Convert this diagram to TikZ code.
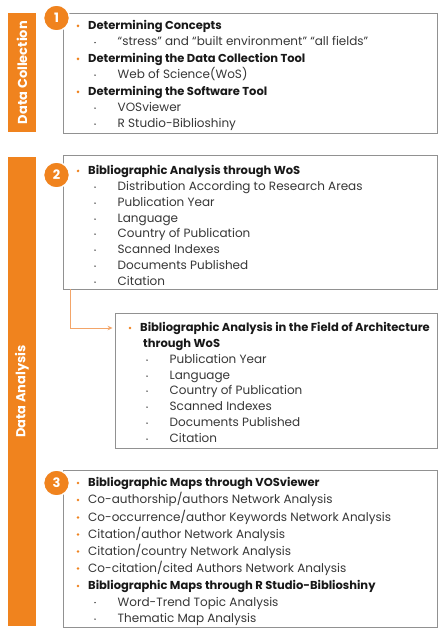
\documentclass[tikz,border=0pt]{standalone}
\usepackage{fontspec}
\setmainfont{Poppins}
\usetikzlibrary{arrows.meta}
\definecolor{org}{RGB}{240,131,30}
\definecolor{lorg}{RGB}{243,165,105}
\definecolor{frame}{RGB}{145,145,145}
\definecolor{txt}{RGB}{25,25,25}
\definecolor{txtb}{RGB}{55,55,55}
\newcommand\obitem[5]{%
  \fill[org] ([yshift=3.6pt]#3,#4) circle (1.4pt);
  \node[#2] (#1) at ([xshift=10pt]#3,#4) {#5};}
\newcommand\kitem[4]{%
  \fill[txt] ([yshift=3.4pt]#2,#3) circle (0.75pt);
  \node[it] (#1) at ([xshift=22.5pt]#2,#3) {#4};}
\begin{document}
\begin{tikzpicture}[x=1pt,y=-1pt,
  box/.style={draw=frame, line width=0.9pt, inner sep=0, fill=white},
  bar/.style={fill=org, text=white, font=\bfseries\fontsize{13}{15}\selectfont, rotate=90, inner sep=0, minimum height=28pt},
  num/.style={circle, fill=org, draw=white, line width=1.5pt, minimum size=26pt, inner sep=0, text=white, font=\bfseries\fontsize{13}{15}\selectfont},
  hd/.style={anchor=base west, inner sep=0, font=\bfseries\fontsize{11.5}{13}\selectfont, text=txt},
  it/.style={anchor=base west, inner sep=0, font=\fontsize{12}{14}\selectfont, text=txtb},
  conn/.style={draw=lorg, line width=0.9pt, -{Stealth[length=5pt,width=4.5pt]}}
]
\useasboundingbox (0,0) rectangle (440,631);
\fill[white] (0,0) rectangle (440,631);

% bars
\node[bar, minimum width=119pt] (bar1) at (22,72.5) {Data Collection};
\node[bar, minimum width=469pt] (bar2) at (22,391.5) {Data Analysis};

% boxes
\node[box, minimum width=374pt, minimum height=120pt] (box1) at (250,73) {};
\node[box, minimum width=374pt, minimum height=134pt] (box2) at (250,222) {};
\node[box, minimum width=322pt, minimum height=135pt] (box3) at (276,380.5) {};
\node[box, minimum width=374pt, minimum height=157pt] (box4) at (250,548.5) {};

% numbers
\node[num] (n1) at (56.5,18) {1};
\node[num] (n2) at (56.5,175) {2};
\node[num] (n3) at (56.5,483) {3};

% box 1
\obitem{a1}{hd}{78}{29.5}{Determining Concepts}
\kitem{a2}{95}{46}{“stress” and “built environment” “all fields”}
\obitem{a3}{hd}{78}{62.5}{Determining the Data Collection Tool}
\kitem{a4}{95}{78.5}{Web of Science(WoS)}
\obitem{a5}{hd}{78}{95.5}{Determining the Software Tool}
\kitem{a6}{95}{111.5}{VOSviewer}
\kitem{a7}{95}{127.5}{R Studio-Biblioshiny}

% box 2
\obitem{b1}{hd}{78}{174.5}{Bibliographic Analysis through WoS}
\kitem{b2}{95}{190.5}{Distribution According to Research Areas}
\kitem{b3}{95}{206.5}{Publication Year}
\kitem{b4}{95}{222.5}{Language}
\kitem{b5}{95}{237.5}{Country of Publication}
\kitem{b6}{95}{253.5}{Scanned Indexes}
\kitem{b7}{95}{269.5}{Documents Published}
\kitem{b8}{95}{285.5}{Citation}

% connector
\coordinate (cc) at (70,328);
\draw[conn, shorten >=2pt] (box2.south -| cc) -- (cc) -- (box3.west |- cc);

% box 3
\obitem{c1}{hd}{130}{331.5}{Bibliographic Analysis in the Field of Architecture}
\node[hd] (c1b) at (143,347.5) {through WoS};
\kitem{c2}{147}{363.5}{Publication Year}
\kitem{c3}{147}{379.5}{Language}
\kitem{c4}{147}{394.5}{Country of Publication}
\kitem{c5}{147}{410.5}{Scanned Indexes}
\kitem{c6}{147}{426.5}{Documents Published}
\kitem{c7}{147}{442.5}{Citation}

% box 4
\obitem{d1}{hd}{78}{486.5}{Bibliographic Maps through VOSviewer}
\obitem{d2}{it}{78}{503.5}{Co-authorship/authors Network Analysis}
\obitem{d3}{it}{78}{521}{Co-occurrence/author Keywords Network Analysis}
\obitem{d4}{it}{78}{538}{Citation/author Network Analysis}
\obitem{d5}{it}{78}{555}{Citation/country Network Analysis}
\obitem{d6}{it}{78}{572}{Co-citation/cited Authors Network Analysis}
\obitem{d7}{hd}{78}{589.5}{Bibliographic Maps through R Studio-Biblioshiny}
\kitem{d8}{95}{606}{Word-Trend Topic Analysis}
\kitem{d9}{95}{622.5}{Thematic Map Analysis}
\end{tikzpicture}
\end{document}
